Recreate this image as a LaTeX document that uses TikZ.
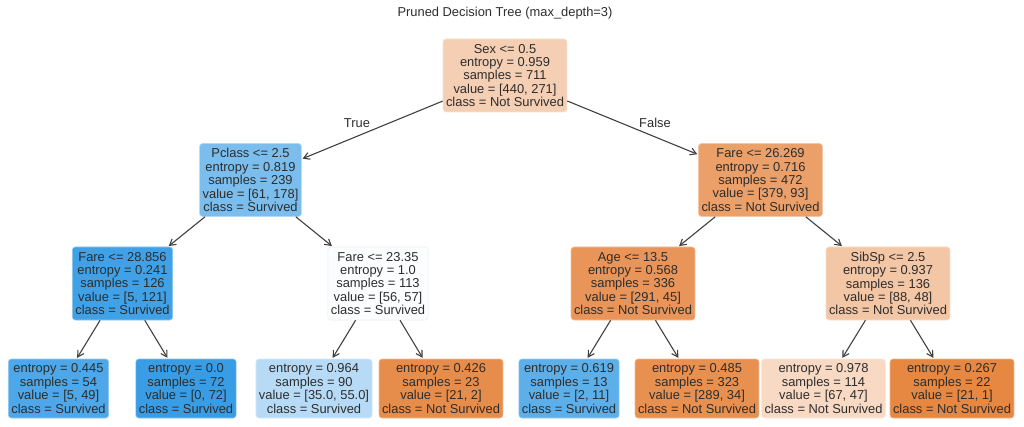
\documentclass[tikz,border=0pt]{standalone}
\usepackage{fontspec}
\setmainfont{Liberation Sans}
\usetikzlibrary{arrows.meta}
\definecolor{txt}{RGB}{45,45,45}
\definecolor{edge}{RGB}{64,64,64}
\definecolor{cRoot}{RGB}{245,207,179}
\definecolor{cPcl}{RGB}{123,190,238}
\definecolor{cFa}{RGB}{65,161,230}
\definecolor{cFb}{RGB}{251,253,254}
\definecolor{cFc}{RGB}{235,160,106}
\definecolor{cAge}{RGB}{233,148,88}
\definecolor{cSib}{RGB}{243,198,165}
\definecolor{cLa}{RGB}{77,167,232}
\definecolor{cLb}{RGB}{57,157,229}
\definecolor{cLc}{RGB}{183,219,246}
\definecolor{cLd}{RGB}{231,141,76}
\definecolor{cLe}{RGB}{93,175,234}
\definecolor{cLf}{RGB}{232,144,80}
\definecolor{cLg}{RGB}{247,217,196}
\definecolor{cLh}{RGB}{230,135,66}
\tikzset{
  lbl/.style={text=txt, font=\fontsize{12.9}{13.4}\selectfont},
  box/.style={lbl, fill=#1, draw=#1!60!white, line width=0.6pt, rounded corners=3pt,
    align=center, inner xsep=3pt, inner ysep=0pt},
  inner/.style={minimum height=73pt},
  leaf/.style={minimum height=59pt},
  arr/.style={draw=edge, line width=1.1pt, -{Straight Barb[length=6pt,width=7pt]}, shorten >=1pt}
}
\begin{document}
\begin{tikzpicture}[x=1pt,y=-1pt]
\useasboundingbox (0,0) rectangle (1024,427);
\node[lbl] (title) at (505,13) {Pruned Decision Tree (max\_depth=3)};
\node[box=cRoot, inner] (root) at (505,75.5) {Sex <= 0.5\\entropy = 0.959\\samples = 711\\value = [440, 271]\\class = Not Survived};
\node[box=cPcl, inner] (pcl) at (250.5,180) {Pclass <= 2.5\\entropy = 0.819\\samples = 239\\value = [61, 178]\\class = Survived};
\node[box=cFc, inner] (fc) at (760.5,180) {Fare <= 26.269\\entropy = 0.716\\samples = 472\\value = [379, 93]\\class = Not Survived};
\node[box=cFa, inner] (fa) at (122.5,283.5) {Fare <= 28.856\\entropy = 0.241\\samples = 126\\value = [5, 121]\\class = Survived};
\node[box=cFb, inner, draw=black!7] (fb) at (378,283.5) {Fare <= 23.35\\entropy = 1.0\\samples = 113\\value = [56, 57]\\class = Survived};
\node[box=cAge, inner] (age) at (633,283.5) {Age <= 13.5\\entropy = 0.568\\samples = 336\\value = [291, 45]\\class = Not Survived};
\node[box=cSib, inner] (sib) at (888,283.5) {SibSp <= 2.5\\entropy = 0.937\\samples = 136\\value = [88, 48]\\class = Not Survived};
\node[box=cLa, leaf] (la) at (58.5,388.5) {entropy = 0.445\\samples = 54\\value = [5, 49]\\class = Survived};
\node[box=cLb, leaf] (lb) at (186,388.5) {entropy = 0.0\\samples = 72\\value = [0, 72]\\class = Survived};
\node[box=cLc, leaf] (lc) at (314,388.5) {entropy = 0.964\\samples = 90\\value = [35.0, 55.0]\\class = Survived};
\node[box=cLd, leaf] (ld) at (441,388.5) {entropy = 0.426\\samples = 23\\value = [21, 2]\\class = Not Survived};
\node[box=cLe, leaf] (le) at (569,388.5) {entropy = 0.619\\samples = 13\\value = [2, 11]\\class = Survived};
\node[box=cLf, leaf] (lf) at (697,388.5) {entropy = 0.485\\samples = 323\\value = [289, 34]\\class = Not Survived};
\node[box=cLg, leaf] (lg) at (823.5,388.5) {entropy = 0.978\\samples = 114\\value = [67, 47]\\class = Not Survived};
\node[box=cLh, leaf] (lh) at (952,388.5) {entropy = 0.267\\samples = 22\\value = [21, 1]\\class = Not Survived};
\draw[arr] (root) -- (pcl);
\draw[arr] (root) -- (fc);
\draw[arr] (pcl) -- (fa);
\draw[arr] (pcl) -- (fb);
\draw[arr] (fc) -- (age);
\draw[arr] (fc) -- (sib);
\draw[arr] (fa) -- (la);
\draw[arr] (fa) -- (lb);
\draw[arr] (fb) -- (lc);
\draw[arr] (fb) -- (ld);
\draw[arr] (age) -- (le);
\draw[arr] (age) -- (lf);
\draw[arr] (sib) -- (lg);
\draw[arr] (sib) -- (lh);
\node[lbl] (ltrue) at (357,123) {True};
\node[lbl] (lfalse) at (655,123) {False};
\end{tikzpicture}
\end{document}
